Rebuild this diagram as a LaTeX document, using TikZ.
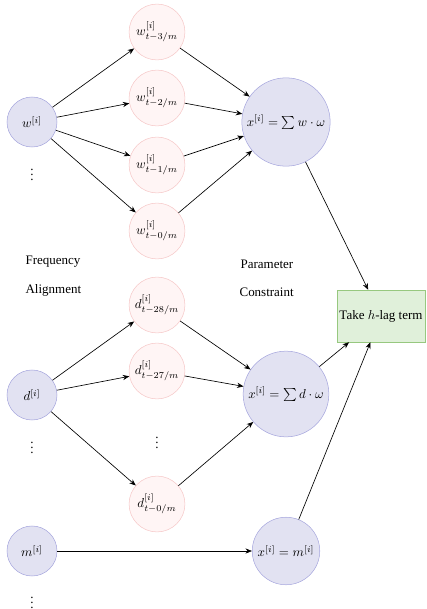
\documentclass[tikz,border=0pt]{standalone}
\usepackage{fontspec}
\setmainfont{Liberation Serif}
\usetikzlibrary{arrows.meta}
\definecolor{cblue}{HTML}{A6A6DD}
\definecolor{cbluefill}{HTML}{E2E2F2}
\definecolor{cpink}{HTML}{F6C8C8}
\definecolor{cpinkfill}{HTML}{FFF5F5}
\definecolor{cgreen}{HTML}{97C87F}
\definecolor{cgreenfill}{HTML}{E0F0DA}
\tikzset{
  src/.style={circle, draw=cblue, fill=cbluefill, minimum size=38.5pt, inner sep=1pt},
  lagnode/.style={circle, draw=cpink, fill=cpinkfill, minimum size=43pt, inner sep=1pt},
  agg/.style={circle, draw=cblue, fill=cbluefill, inner sep=1pt, minimum size=#1},
  outbox/.style={draw=cgreen, fill=cgreenfill, minimum width=68pt, minimum height=40pt, inner sep=2pt},
  arrow/.style={-{Stealth[length=5pt, width=4pt]}, line width=0.5pt},
  label/.style={anchor=west},
  dots/.style={inner sep=0pt},
}
\begin{document}
\begin{tikzpicture}[x=0.77pt, y=-0.77pt]
  \useasboundingbox (0,0) rectangle (426,609);
  % weekly input and its lags
  \node[src] (w) at (32,122) {$w^{[i]}$};
  \node[dots] (dw) at (32,171) {$\vdots$};
  \foreach \k/\y in {3/32, 2/98, 1/165, 0/231}
    \node[lagnode] (w\k) at (157,\y) {$w^{[i]}_{t-\k/m}$};
  \node[agg=68pt] (xw) at (286,122) {$x^{[i]}=\sum w\cdot\omega$};
  \foreach \k in {3,2,1,0} {
    \draw[arrow] (w) -- (w\k);
    \draw[arrow] (w\k) -- (xw);
  }
  % column labels
  \node[label] (freq) at (21,262) {Frequency};
  \node[label] (align) at (21,290) {Alignment};
  \node[label] (param) at (236,264) {Parameter};
  \node[label] (constr) at (235,292) {Constraint};
  % daily input and its lags
  \node[src] (d) at (32,395) {$d^{[i]}$};
  \node[dots] (dd) at (32,444) {$\vdots$};
  \node[lagnode] (d28) at (157,305) {$d^{[i]}_{t-28/m}$};
  \node[lagnode] (d27) at (157,371) {$d^{[i]}_{t-27/m}$};
  \node[dots] (dmid) at (157,439) {$\vdots$};
  \node[lagnode] (d0) at (157,504) {$d^{[i]}_{t-0/m}$};
  \node[agg=66pt] (xd) at (286,394) {$x^{[i]}=\sum d\cdot\omega$};
  \foreach \k in {28,27,0} {
    \draw[arrow] (d) -- (d\k);
    \draw[arrow] (d\k) -- (xd);
  }
  % monthly input
  \node[src] (m) at (32,551) {$m^{[i]}$};
  \node[dots] (dm) at (32,599) {$\vdots$};
  \node[agg=52pt] (xm) at (286,551) {$x^{[i]}=m^{[i]}$};
  \draw[arrow] (m) -- (xm);
  % h-lag output
  \node[outbox] (lag) at (381,316) {Take $h$-lag term};
  \draw[arrow] (xw) -- (lag);
  \draw[arrow] (xd) -- (lag);
  \draw[arrow] (xm) -- (lag);
\end{tikzpicture}
\end{document}
